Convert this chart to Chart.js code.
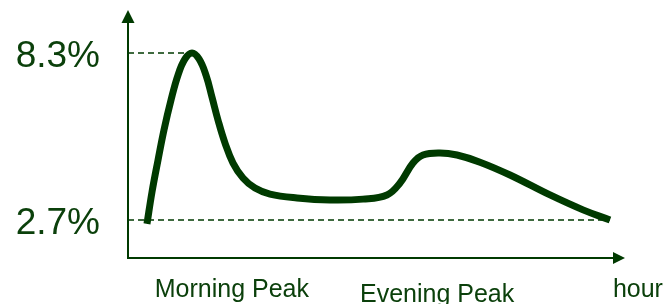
<!DOCTYPE html>
<html>
<head>
<meta charset="utf-8">
<script src="https://cdn.jsdelivr.net/npm/chart.js@4.4.1/dist/chart.umd.min.js"></script>
<style>
  html, body { margin: 0; padding: 0; background: #ffffff; }
  #wrap { width: 664px; height: 304px; position: relative; }
</style>
</head>
<body>
<div id="wrap"><canvas id="c" width="664" height="304"></canvas></div>
<script>
// ---- data ----
const curveX = [3.82, 4.83, 6.04, 7.24, 8.65, 10.06, 11.47, 12.88, 14.29, 15.69, 16.90, 18.11, 19.52, 21.13, 23.14, 25.55, 28.57, 34.0, 40.64, 47.28, 52.11, 54.73, 57.34, 59.36, 62.78, 66.2, 70.82, 76.86, 84.91, 91.55, 96.98];
const curveY = [2.57, 3.64, 4.71, 5.72, 6.72, 7.56, 8.10, 8.3, 8.10, 7.56, 6.82, 6.05, 5.28, 4.61, 4.11, 3.77, 3.57, 3.44, 3.37, 3.40, 3.54, 3.94, 4.61, 4.88, 4.95, 4.88, 4.64, 4.21, 3.54, 3.04, 2.70];
const refValues = [8.3, 2.7];            // dashed reference levels
const refEndX = [12.88, 96.98];          // where each reference line meets the curve
const xCategories = ['Morning Peak', 'Evening Peak', 'hour'];
const xCategoryPos = [20.9, 62.2, 102.6];
const yTickValues = [2.7, 8.3];
const xRange = [0, 100];
const yRange = [1.426, 9.742];

const GREEN = '#003a00';
const TEXT = '#0b400b';
const FONT = "Arial, 'Liberation Sans', sans-serif";

const curveData = curveX.map((x, i) => ({ x: x, y: curveY[i] }));
const refSets = refValues.map((v, i) => ({
  data: [{ x: xRange[0], y: v }, { x: refEndX[i], y: v }],
  borderColor: GREEN,
  borderWidth: 1.5,
  borderDash: [6, 4],
  pointRadius: 0,
  tension: 0,
  order: 2
}));

function noPad(s) {
  s.paddingTop = 0; s.paddingBottom = 0; s.paddingLeft = 0; s.paddingRight = 0;
}

const axesPlugin = {
  id: 'arrowAxes',
  beforeDatasetsDraw(chart) {
    const { ctx, chartArea: a } = chart;
    ctx.save();
    ctx.strokeStyle = GREEN;
    ctx.fillStyle = GREEN;
    ctx.lineWidth = 2;
    // y axis
    ctx.beginPath();
    ctx.moveTo(a.left, a.bottom);
    ctx.lineTo(a.left, a.top + 12);
    ctx.stroke();
    ctx.beginPath();
    ctx.moveTo(a.left, a.top);
    ctx.lineTo(a.left - 6.5, a.top + 13);
    ctx.lineTo(a.left + 6.5, a.top + 13);
    ctx.closePath();
    ctx.fill();
    // x axis
    ctx.beginPath();
    ctx.moveTo(a.left - 1, a.bottom);
    ctx.lineTo(a.right - 11, a.bottom);
    ctx.stroke();
    ctx.beginPath();
    ctx.moveTo(a.right, a.bottom);
    ctx.lineTo(a.right - 12, a.bottom - 6);
    ctx.lineTo(a.right - 12, a.bottom + 6);
    ctx.closePath();
    ctx.fill();
    ctx.restore();
  }
};

new Chart(document.getElementById('c'), {
  type: 'line',
  data: {
    datasets: [
      {
        data: curveData,
        borderColor: GREEN,
        borderWidth: 7,
        borderCapStyle: 'butt',
        borderJoinStyle: 'round',
        pointRadius: 0,
        tension: 0.4,
        fill: false,
        order: 1
      },
      ...refSets
    ]
  },
  options: {
    responsive: false,
    animation: false,
    events: [],
    layout: { autoPadding: false, padding: { top: 10, right: 39, bottom: 0, left: 0 } },
    plugins: { legend: { display: false }, tooltip: { enabled: false }, title: { display: false } },
    scales: {
      x: {
        type: 'linear',
        min: xRange[0],
        max: xRange[1],
        grid: { display: false, drawTicks: false },
        border: { display: false },
        afterFit(s) { s.height = 46; noPad(s); },
        afterBuildTicks(s) { s.ticks = xCategoryPos.map(v => ({ value: v })); },
        ticks: {
          autoSkip: false,
          maxRotation: 0,
          padding: 17,
          color: TEXT,
          font: (c) => ({ family: FONT, size: 25, lineHeight: c.index === 1 ? 1.6 : 1.2 }),
          callback: (v, i) => xCategories[i]
        }
      },
      y: {
        type: 'linear',
        min: yRange[0],
        max: yRange[1],
        grid: { display: false, drawTicks: false },
        border: { display: false },
        afterFit(s) { s.width = 128; noPad(s); },
        afterBuildTicks(s) { s.ticks = yTickValues.map(v => ({ value: v })); },
        ticks: {
          padding: 28,
          color: TEXT,
          font: { family: FONT, size: 37, lineHeight: '7px' },
          callback: (v) => ['', v.toFixed(1) + '%']
        }
      }
    }
  },
  plugins: [axesPlugin]
});
</script>
</body>
</html>
